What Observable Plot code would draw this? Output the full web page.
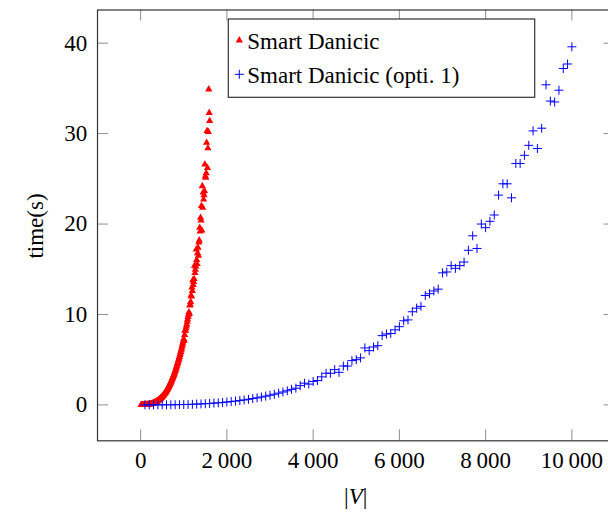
<!DOCTYPE html>
<html><head><meta charset="utf-8">
<script src="https://cdn.jsdelivr.net/npm/d3@7"></script>
<script src="https://cdn.jsdelivr.net/npm/@observablehq/plot@0.6"></script>
<style>
html,body{margin:0;padding:0;background:#fff;overflow:hidden;width:608px;height:516px;}
#chart{position:relative;width:608px;height:516px;overflow:hidden;}
</style></head><body><div id="chart"></div>
<script>
const redX = [10,20,30,40,50,60,70,80,90,100,110,120,130,140,150,160,170,180,190,200,
210,220,230,240,250,260,270,280,290,300,310,320,330,340,350,360,370,380,390,400,
410,420,430,440,450,460,470,480,490,500,510,520,530,540,550,560,570,580,590,600,
610,620,630,640,650,660,670,680,690,700,710,720,730,740,750,760,770,780,790,800,
810,820,830,840,850,860,870,880,890,900,910,920,930,940,950,960,970,980,990,1000,
1010,1020,1030,1040,1050,1060,1070,1080,1090,1100,1110,1120,1130,1140,1150,1160,1170,1180,1190,1200,
1210,1220,1230,1240,1250,1260,1270,1280,1290,1300,1310,1320,1330,1340,1350,1360,1370,1380,1390,1400,
1410,1420,1430,1440,1450,1460,1470,1480,1490,1500,1510,1520,1530,1540,1550,1560,1570,1580,1590,1600];
const redY = [0,0,0,0,0,0,0,0,0.01,0.01,
0.01,0.01,0.02,0.02,0.02,0.03,0.04,0.04,0.05,0.06,
0.07,0.08,0.09,0.10,0.11,0.13,0.14,0.16,0.18,0.20,
0.22,0.24,0.26,0.29,0.31,0.34,0.37,0.40,0.43,0.47,
0.50,0.54,0.58,0.62,0.67,0.71,0.76,0.81,0.86,0.91,
0.97,1.03,1.09,1.15,1.21,1.28,1.35,1.42,1.50,1.58,
1.66,1.74,1.83,1.91,2.00,2.10,2.20,2.30,2.40,2.50,
2.61,2.72,2.84,2.96,3.08,3.20,3.33,3.46,3.60,3.74,
3.88,4.03,4.17,4.33,4.48,4.64,4.81,4.97,5.15,5.32,
5.50,5.68,5.87,6.06,6.26,6.46,6.66,6.87,7.08,7.30,
7.10,7.75,8.20,8.21,8.45,8.69,8.90,9.20,9.45,9.72,
9.99,10.26,10.10,11.00,11.10,11.40,12.10,11.99,13.00,12.61,
13.80,13.26,13.59,13.92,15.40,14.60,14.95,15.31,17.20,16.04,
15.60,16.79,17.40,16.50,17.96,18.20,19.60,19.18,20.70,20.40,
22.00,19.30,24.20,21.80,23.50,22.72,23.19,23.67,26.60,25.30,
25.13,25.64,29.00,30.30,26.20,28.40,30.20,34.90,32.30,31.40];
const blueX = [100,200,300,400,500,600,700,800,900,1000,1100,1200,1300,1400,1500,1600,1700,1800,1900,2000,
2100,2200,2300,2400,2500,2600,2700,2800,2900,3000,3100,3200,3300,3400,3500,3600,3700,3800,3900,4000,
4100,4200,4300,4400,4500,4600,4700,4800,4900,5000,5100,5200,5300,5400,5500,5600,5700,5800,5900,6000,
6100,6200,6300,6400,6500,6600,6700,6800,6900,7000,7100,7200,7300,7400,7500,7600,7700,7800,7900,8000,
8100,8200,8300,8400,8500,8600,8700,8800,8900,9000,9100,9200,9300,9400,9500,9600,9700,9800,9900,10000];
const blueY = [0.00,0.00,0.00,0.00,0.01,0.01,0.01,0.02,0.03,0.04,
0.05,0.07,0.09,0.11,0.13,0.16,0.20,0.23,0.27,0.32,
0.37,0.42,0.48,0.55,0.62,0.70,0.78,0.87,0.97,1.07,
1.18,1.30,1.43,1.56,1.72,1.85,2.13,2.40,2.30,2.60,
2.70,3.10,3.50,3.50,3.90,3.60,4.30,4.30,4.90,5.00,
5.20,6.30,6.00,6.40,6.55,7.66,7.84,7.90,8.30,8.65,
9.30,9.40,10.30,10.70,10.90,12.10,12.30,12.60,12.80,14.60,
14.70,15.40,15.10,15.40,15.80,17.10,18.70,17.30,20.00,19.60,
20.30,21.00,23.20,24.45,24.45,22.90,26.70,26.70,27.60,28.70,
30.30,28.35,30.60,35.40,33.60,33.50,34.80,37.20,37.70,39.60];
const xTicks = [0,2000,4000,6000,8000,10000];
const xTickLabels = ["0","2\u2009000","4\u2009000","6\u2009000","8\u2009000","10\u2009000"];
const yTicks = [0,10,20,30,40];
const yTickLabels = ["0","10","20","30","40"];
const seriesNames = ["Smart Danicic","Smart Danicic (opti. 1)"];
const seriesColors = ["#ff0000","#0000ff"];
const yLabel = "time(s)";
const xDomain = [-1000, 11000];
const yDomain = [-3.97, 43.67];

const red = redX.map((x, i) => ({x, y: redY[i]}));
const blue = blueX.map((x, i) => ({x, y: blueY[i]}));

const W = 616, H = 516, mL = 97, mR = 1.5, mT = 9.5, mB = 75.7;
const plotW = W - mL - mR, plotH = H - mT - mB, tick = 11, tickColor = "#8f8f8f";
const FONT = "'Liberation Serif', serif";

const chart = Plot.plot({
  width: W, height: H,
  marginLeft: mL, marginRight: mR, marginTop: mT, marginBottom: mB,
  style: `font-family:${FONT};font-size:23px;max-width:none;background:#fff;color:#000;`,
  x: {domain: xDomain},
  y: {domain: yDomain},
  marks: [
    Plot.ruleX(xTicks, {x: d => d, insetTop: plotH - tick, stroke: tickColor, strokeWidth: 1}),
    Plot.ruleX(xTicks, {x: d => d, insetBottom: plotH - tick, stroke: tickColor, strokeWidth: 1}),
    Plot.ruleY(yTicks, {y: d => d, insetRight: plotW - tick, stroke: tickColor, strokeWidth: 1}),
    Plot.ruleY(yTicks, {y: d => d, insetLeft: plotW - tick, stroke: tickColor, strokeWidth: 1}),
    Plot.axisX({ticks: xTicks, tickSize: 0, tickPadding: 11, tickFormat: (d, i) => xTickLabels[i], fontSize: 23, label: null}),
    Plot.axisY({ticks: yTicks, tickSize: 0, tickPadding: 10.3, tickFormat: (d, i) => yTickLabels[i], fontSize: 23, label: null}),
    Plot.dot(red, {x: "x", y: "y", symbol: "triangle", r: 2.7, fill: seriesColors[0], stroke: "none"}),
    Plot.dot(blue, {x: "x", y: "y", symbol: "plus", r: 3, stroke: seriesColors[1], strokeWidth: 1}),
    Plot.frame({stroke: "#333", strokeWidth: 1.2})
  ]
});
document.getElementById("chart").appendChild(chart);

const svg = d3.select(chart);
// x axis label |V|
const xl = svg.append("text").attr("x", mL + plotW / 2).attr("y", 504)
  .attr("text-anchor", "middle").attr("font-size", 23).attr("font-family", FONT).attr("fill", "#000");
xl.append("tspan").text("|");
xl.append("tspan").attr("font-style", "italic").text("V");
xl.append("tspan").text("|");
// y axis label
svg.append("text").attr("transform", "translate(43,226) rotate(-90)")
  .attr("text-anchor", "middle").attr("font-size", 23).attr("font-family", FONT).attr("fill", "#000")
  .text(yLabel);
// legend
const lg = svg.append("g");
lg.append("rect").attr("x", 228.3).attr("y", 19).attr("width", 306.4).attr("height", 78.3)
  .attr("fill", "#fff").attr("stroke", "#333").attr("stroke-width", 1.2);
const symbols = [d3.symbolTriangle, d3.symbolPlus];
const rows = [40.3, 74.3], bases = [49, 82.7];
seriesNames.forEach((name, i) => {
  const p = lg.append("path").attr("transform", `translate(239.3,${rows[i]})`)
    .attr("d", d3.symbol(symbols[i], Math.PI * (i === 0 ? 2.7 * 2.7 : 9))());
  if (i === 0) p.attr("fill", seriesColors[0]);
  else p.attr("fill", "none").attr("stroke", seriesColors[1]).attr("stroke-width", 1);
  lg.append("text").attr("x", 247.3).attr("y", bases[i]).attr("font-size", 23)
    .attr("font-family", FONT).attr("fill", "#000").attr("text-anchor", "start").text(name);
});
</script></body></html>
